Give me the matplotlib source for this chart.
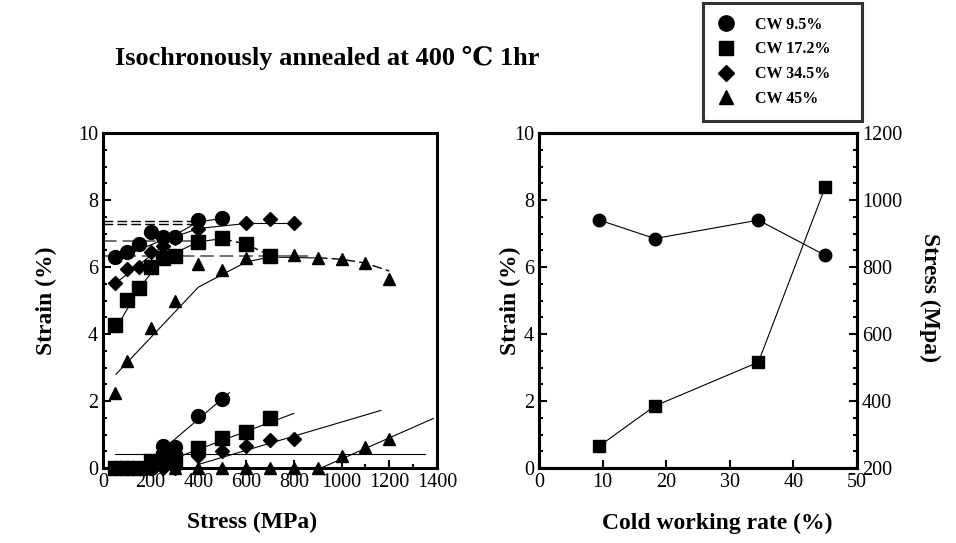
import matplotlib
matplotlib.use("Agg")
import matplotlib.pyplot as plt
from matplotlib.ticker import MultipleLocator
from matplotlib.lines import Line2D

plt.rcParams['font.family'] = ['Liberation Serif', 'DejaVu Serif']

# ---------------- data: left panel (strain vs stress) ----------------
cw_labels = ["CW 9.5%", "CW 17.2%", "CW 34.5%", "CW 45%"]
markers = ["o", "s", "D", "^"]
msizes = [10, 9.5, 7, 9]

# upper (total) strain
c_up_x = [50, 100, 150, 200, 250, 300, 400, 500]
c_up_y = [6.3, 6.45, 6.7, 7.05, 6.9, 6.9, 7.4, 7.45]
s_up_x = [50, 100, 150, 200, 250, 300, 400, 500, 600, 700]
s_up_y = [4.27, 5.03, 5.38, 6.01, 6.28, 6.34, 6.76, 6.86, 6.68, 6.34]
d_up_x = [50, 100, 150, 200, 250, 300, 400, 600, 700, 800]
d_up_y = [5.53, 5.94, 5.99, 6.46, 6.63, 6.87, 7.13, 7.3, 7.42, 7.3]
t_up_x = [50, 100, 200, 300, 400, 500, 600, 800, 900, 1000, 1100, 1200]
t_up_y = [2.25, 3.2, 4.17, 5.0, 6.09, 5.91, 6.26, 6.36, 6.26, 6.23, 6.11, 5.65]

# lower (residual) strain
c_lo_x = [50, 100, 150, 200, 250, 300, 400, 500]
c_lo_y = [0, 0, 0, 0, 0.65, 0.62, 1.55, 2.05]
s_lo_x = [50, 100, 150, 200, 250, 300, 400, 500, 600, 700]
s_lo_y = [0, 0, 0, 0.22, 0.3, 0.27, 0.6, 0.9, 1.08, 1.48]
d_lo_x = [200, 250, 300, 400, 500, 600, 700, 800]
d_lo_y = [0, 0, 0, 0.37, 0.5, 0.67, 0.83, 0.88]
t_lo_x = [300, 400, 500, 600, 700, 800, 900, 1000, 1100, 1200]
t_lo_y = [0, 0, 0, 0, 0, 0, 0, 0.37, 0.63, 0.87]

# guide/fit lines (solid)
fit_c_x, fit_c_y = [50, 300, 400, 500], [6.22, 6.95, 7.35, 7.45]
fit_s_x, fit_s_y = [50, 150, 250, 400, 500], [4.1, 5.35, 6.25, 6.75, 6.85]
fit_d_x, fit_d_y = [50, 300, 400, 600, 800], [5.5, 6.9, 7.15, 7.3, 7.3]
fit_t_x, fit_t_y = [55, 400, 600, 700, 900], [2.8, 5.4, 6.15, 6.3, 6.27]
low_h_x, low_h_y = [50, 1350], [0.41, 0.41]
low_c_x, low_c_y = [285, 530], [0.76, 2.25]
low_s_x, low_s_y = [327, 800], [0.36, 1.63]
low_d_x, low_d_y = [397, 1165], [0.1, 1.72]
low_t_x, low_t_y = [914, 1385], [0.0, 1.48]

# dashed lines
dash_k1_x, dash_k1_y = [0, 400], [7.36, 7.36]
dash_k2_x, dash_k2_y = [0, 400], [7.29, 7.29]
dash_g1_x, dash_g1_y = [0, 400], [6.79, 6.79]
dash_g2_x, dash_g2_y = [0, 860], [6.33, 6.33]
dash_dec1_x, dash_dec1_y = [500, 600, 700], [6.85, 6.68, 6.35]
dash_dec2_x, dash_dec2_y = [900, 1000, 1100, 1200], [6.28, 6.23, 6.12, 5.88]

# ---------------- data: right panel ----------------
cw_rate = [9.5, 18.2, 34.5, 45.0]
strain_sat = [7.4, 6.85, 7.4, 6.35]
stress_sat = [266, 385, 516, 1038]

# ---------------- figure ----------------
fig = plt.figure(figsize=(9.56, 5.43), dpi=100)
axL = fig.add_axes([0.1077, 0.1381, 0.3494, 0.6169])
axR = fig.add_axes([0.5638, 0.1381, 0.3326, 0.6169])

lw = 0.8
for x, y in [(fit_c_x, fit_c_y), (fit_s_x, fit_s_y), (fit_d_x, fit_d_y), (fit_t_x, fit_t_y),
             (low_h_x, low_h_y), (low_c_x, low_c_y), (low_s_x, low_s_y), (low_d_x, low_d_y),
             (low_t_x, low_t_y)]:
    axL.plot(x, y, color='black', lw=lw, zorder=2)
for x, y in [(dash_k1_x, dash_k1_y), (dash_k2_x, dash_k2_y), (dash_dec1_x, dash_dec1_y),
             (dash_dec2_x, dash_dec2_y)]:
    axL.plot(x, y, color='black', lw=1.0, ls=(0, (7, 3)), zorder=2)
for x, y in [(dash_g1_x, dash_g1_y), (dash_g2_x, dash_g2_y)]:
    axL.plot(x, y, color='#707070', lw=1.4, ls=(0, (7, 3)), zorder=2)

series_up = [(c_up_x, c_up_y), (s_up_x, s_up_y), (d_up_x, d_up_y), (t_up_x, t_up_y)]
series_lo = [(c_lo_x, c_lo_y), (s_lo_x, s_lo_y), (d_lo_x, d_lo_y), (t_lo_x, t_lo_y)]
for i in range(4):
    for x, y in (series_up[i], series_lo[i]):
        axL.plot(x, y, ls='none', marker=markers[i], ms=msizes[i], color='black',
                 clip_on=False, zorder=3)

axL.set_xlim(0, 1400)
axL.set_ylim(0, 10)
axL.xaxis.set_major_locator(MultipleLocator(200))
axL.xaxis.set_minor_locator(MultipleLocator(100))
axL.yaxis.set_major_locator(MultipleLocator(2))
axL.yaxis.set_minor_locator(MultipleLocator(0.5))
lab_kw = dict(fontsize=17, fontweight='bold')
axL.set_xlabel("Stress (MPa)", **lab_kw)
axL.set_ylabel("Strain (%)", **lab_kw)

# right panel
axR.plot(cw_rate, strain_sat, color='black', lw=lw, marker='o', ms=9)
axR2 = axR.twinx()
axR2.plot(cw_rate, stress_sat, color='black', lw=lw, marker='s', ms=9)
axR.set_xlim(0, 50)
axR.set_ylim(0, 10)
axR2.set_ylim(200, 1200)
axR.xaxis.set_major_locator(MultipleLocator(10))
axR.yaxis.set_major_locator(MultipleLocator(2))
axR.yaxis.set_minor_locator(MultipleLocator(0.5))
axR2.yaxis.set_major_locator(MultipleLocator(200))
axR2.yaxis.set_minor_locator(MultipleLocator(50))
axR.set_xlabel("Cold working rate (%)", **lab_kw)
axR.set_ylabel("Strain (%)", **lab_kw)
axR2.set_ylabel("Stress (Mpa)", rotation=270, **lab_kw)

# label positions (axes fraction)
axL.xaxis.set_label_coords(0.446, -0.164)
axR.xaxis.set_label_coords(0.56, -0.164)
axL.yaxis.set_label_coords(-0.168, 0.5)
axR.yaxis.set_label_coords(-0.091, 0.5)
axR2.yaxis.set_label_coords(1.23, 0.51)
for lab in (axL.xaxis.label, axR.xaxis.label, axL.yaxis.label, axR.yaxis.label,
            axR2.yaxis.label):
    lab.set_va('center')
    lab.set_ha('center')

for ax in (axL, axR, axR2):
    for sp in ax.spines.values():
        sp.set_linewidth(2.2)
    ax.tick_params(which='both', direction='in', labelsize=14.5, width=1.5)
    ax.tick_params(which='major', length=6)
    ax.tick_params(which='minor', length=3)
axL.tick_params(which='both', top=False, right=False)
axR.tick_params(which='both', top=False, right=False)
axR2.tick_params(which='both', left=False)

fig.text(0.12, 0.893, "Isochronously annealed at 400 \u2103 1hr", fontsize=19,
         fontweight='bold', ha='left', va='center')

handles = [Line2D([], [], ls='none', marker=markers[i], ms=msizes[i] + 1, color='black')
           for i in range(4)]
leg = fig.legend(handles, cw_labels, loc='upper left', mode='expand',
                 bbox_to_anchor=(703 / 956, 1 - 117 / 543, 159 / 956, 114 / 543),
                 frameon=True, fancybox=False, edgecolor='black', handlelength=1.2,
                 handletextpad=1.2, borderpad=0.85, borderaxespad=0, labelspacing=0.55,
                 prop={'family': ['Liberation Serif'], 'weight': 'bold', 'size': 11.5})
leg.get_frame().set_linewidth(2.2)

fig.savefig("out.png", dpi=100)
